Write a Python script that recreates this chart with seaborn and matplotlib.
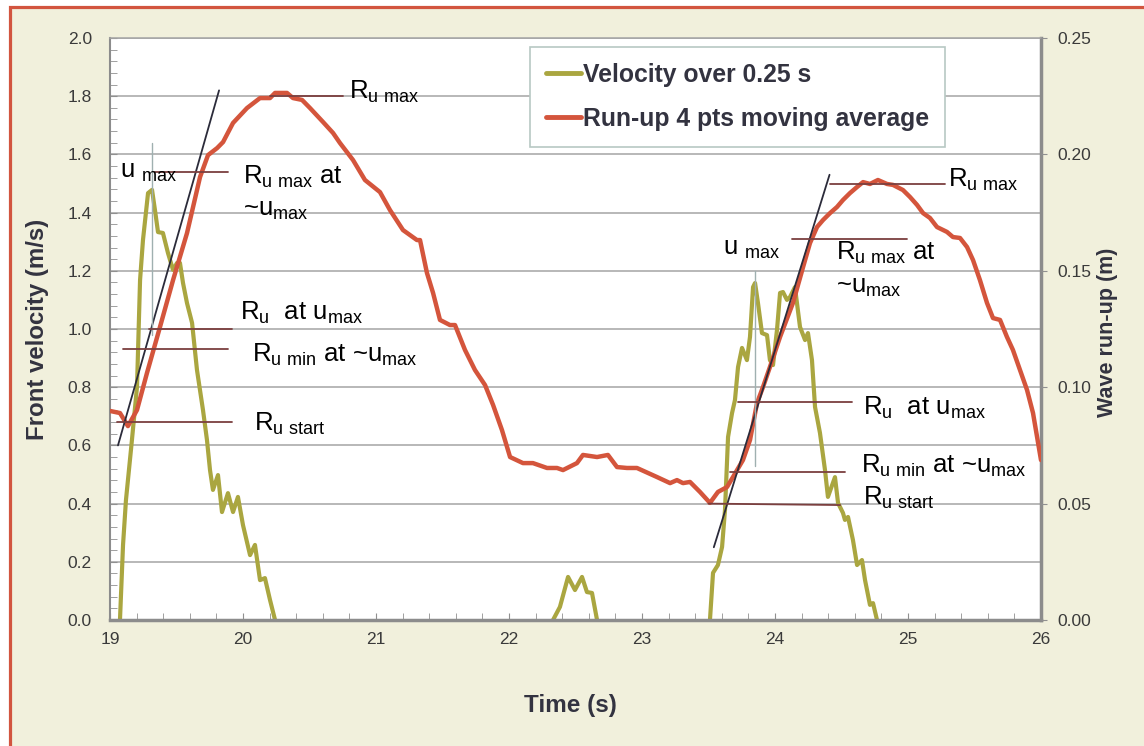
import numpy as np
import pandas as pd
import seaborn as sns
import matplotlib.pyplot as plt
from matplotlib.lines import Line2D
from matplotlib.patches import Rectangle
from matplotlib.ticker import MultipleLocator, FormatStrFormatter

# --- data ---
# run-up, 4 pts moving average (time s, run-up m)
runup_t = [19.000, 19.075, 19.135, 19.203, 19.278, 19.376, 19.474, 19.579, 19.677, 19.737,
           19.805, 19.850, 19.925, 20.030, 20.128, 20.203, 20.241, 20.331, 20.376, 20.444,
           20.504, 20.602, 20.677, 20.729, 20.827, 20.917, 21.030, 21.105, 21.203, 21.308,
           21.331, 21.383, 21.429, 21.481, 21.556, 21.594, 21.669, 21.744, 21.820, 21.880,
           21.947, 22.008, 22.105, 22.180, 22.286, 22.361, 22.406, 22.511, 22.556, 22.662,
           22.744, 22.812, 22.887, 22.962, 23.113, 23.211, 23.263, 23.308, 23.361, 23.436,
           23.511, 23.571, 23.639, 23.684, 23.759, 23.812, 23.865, 23.910, 23.962, 24.038,
           24.135, 24.211, 24.263, 24.316, 24.361, 24.414, 24.466, 24.511, 24.564, 24.617,
           24.662, 24.714, 24.774, 24.842, 24.887, 24.962, 25.015, 25.068, 25.113, 25.165,
           25.218, 25.293, 25.338, 25.391, 25.444, 25.489, 25.541, 25.594, 25.639, 25.692,
           25.744, 25.789, 25.842, 25.895, 25.940, 26.000]
runup_m = [0.0898, 0.0889, 0.0833, 0.0902, 0.1061, 0.1259, 0.1460, 0.1662, 0.1903, 0.1997,
           0.2027, 0.2053, 0.2135, 0.2199, 0.2242, 0.2242, 0.2264, 0.2264, 0.2242, 0.2234,
           0.2199, 0.2139, 0.2092, 0.2049, 0.1976, 0.1890, 0.1838, 0.1761, 0.1675, 0.1632,
           0.1632, 0.1491, 0.1405, 0.1289, 0.1267, 0.1267, 0.1160, 0.1074, 0.1009, 0.0924,
           0.0816, 0.0700, 0.0674, 0.0674, 0.0653, 0.0653, 0.0644, 0.0674, 0.0709, 0.0700,
           0.0709, 0.0657, 0.0653, 0.0653, 0.0614, 0.0588, 0.0601, 0.0588, 0.0593, 0.0550,
           0.0503, 0.0550, 0.0571, 0.0614, 0.0687, 0.0773, 0.0932, 0.1001, 0.1087, 0.1216,
           0.1362, 0.1516, 0.1619, 0.1688, 0.1718, 0.1748, 0.1774, 0.1804, 0.1834, 0.1860,
           0.1881, 0.1873, 0.1890, 0.1873, 0.1869, 0.1847, 0.1817, 0.1783, 0.1748, 0.1727,
           0.1688, 0.1667, 0.1645, 0.1641, 0.1602, 0.1546, 0.1460, 0.1362, 0.1297, 0.1289,
           0.1216, 0.1160, 0.1074, 0.0988, 0.0889, 0.0687]

# front velocity over 0.25 s, three bursts (time s, velocity m/s)
vel1_t = [19.075, 19.098, 19.120, 19.165, 19.203, 19.226, 19.248, 19.286, 19.316, 19.338,
          19.361, 19.398, 19.436, 19.474, 19.504, 19.526, 19.549, 19.579, 19.617, 19.654,
          19.699, 19.729, 19.752, 19.774, 19.812, 19.842, 19.887, 19.925, 19.962, 20.000,
          20.053, 20.090, 20.128, 20.165, 20.203, 20.241]
vel1_v = [0.000, 0.258, 0.412, 0.619, 0.801, 1.168, 1.306, 1.467, 1.478, 1.409,
          1.333, 1.330, 1.261, 1.203, 1.227, 1.227, 1.158, 1.089, 1.021, 0.859,
          0.722, 0.619, 0.515, 0.447, 0.498, 0.371, 0.436, 0.371, 0.423, 0.326,
          0.223, 0.258, 0.137, 0.144, 0.069, 0.000]
vel2_t = [22.331, 22.383, 22.444, 22.496, 22.549, 22.586, 22.624, 22.662]
vel2_v = [0.000, 0.045, 0.148, 0.103, 0.148, 0.096, 0.093, 0.000]
vel3_t = [23.511, 23.534, 23.571, 23.602, 23.624, 23.647, 23.677, 23.699, 23.722, 23.752,
          23.789, 23.812, 23.835, 23.850, 23.872, 23.902, 23.940, 23.962, 23.985, 24.015,
          24.038, 24.060, 24.090, 24.113, 24.150, 24.188, 24.226, 24.248, 24.278, 24.301,
          24.338, 24.376, 24.398, 24.451, 24.474, 24.511, 24.526, 24.549, 24.586, 24.617,
          24.654, 24.677, 24.714, 24.737, 24.767]
vel3_v = [0.000, 0.162, 0.189, 0.251, 0.378, 0.629, 0.711, 0.756, 0.869, 0.935,
          0.893, 0.973, 1.144, 1.158, 1.089, 0.986, 0.979, 0.893, 0.876, 0.997,
          1.124, 1.127, 1.100, 1.110, 1.144, 1.007, 0.962, 0.986, 0.893, 0.732,
          0.643, 0.515, 0.423, 0.491, 0.402, 0.368, 0.344, 0.354, 0.275, 0.189,
          0.206, 0.137, 0.052, 0.058, 0.000]

# annotation marks (velocity units on the left axis)
tangent_lines = [((19.06, 19.82), (0.60, 1.82)), ((23.54, 24.41), (0.25, 1.53))]
umax_lines = [((19.316, 19.316), (0.98, 1.64)), ((23.85, 23.85), (0.53, 1.20))]
level_lines = [((20.20, 20.75), (1.80, 1.80)), ((19.34, 19.89), (1.54, 1.54)),
               ((19.29, 19.92), (1.00, 1.00)), ((19.10, 19.89), (0.93, 0.93)),
               ((19.05, 19.92), (0.68, 0.68)),
               ((24.41, 25.28), (1.50, 1.50)), ((24.13, 24.99), (1.31, 1.31)),
               ((23.72, 24.58), (0.75, 0.75)), ((23.66, 24.53), (0.51, 0.51)),
               ((23.50, 24.49), (0.40, 0.395))]
labels = [(20.80, 1.79, r'R$_{u\ max}$'), (19.075, 1.52, r'u $_{max}$'),
          (20.00, 1.50, r'R$_{u\ max}$ at'), (20.00, 1.39, r'~u$_{max}$'),
          (19.98, 1.03, r'R$_{u}$  at u$_{max}$'), (20.07, 0.887, r'R$_{u\ min}$ at ~u$_{max}$'),
          (20.08, 0.65, r'R$_{u\ start}$'),
          (25.30, 1.49, r'R$_{u\ max}$'), (23.61, 1.254, r'u $_{max}$'),
          (24.46, 1.237, r'R$_{u\ max}$ at'), (24.46, 1.124, r'~u$_{max}$'),
          (24.66, 0.704, r'R$_{u}$  at u$_{max}$'), (24.65, 0.505, r'R$_{u\ min}$ at ~u$_{max}$'),
          (24.66, 0.395, r'R$_{u\ start}$')]

OLIVE = '#aaa640'
RED = '#d4553c'
GRAY = '#a4a4a4'

sns.set_style('white')
plt.rcParams['font.family'] = ['Liberation Sans', 'DejaVu Sans']
plt.rcParams['mathtext.default'] = 'regular'

vel = pd.concat([
    pd.DataFrame({'t': vel1_t, 'v': vel1_v, 'burst': 1}),
    pd.DataFrame({'t': vel2_t, 'v': vel2_v, 'burst': 2}),
    pd.DataFrame({'t': vel3_t, 'v': vel3_v, 'burst': 3}),
])
run = pd.DataFrame({'t': runup_t, 'm': runup_m})

fig = plt.figure(figsize=(11.44, 7.46), dpi=100, facecolor='white')
fig.patches.append(Rectangle((9.5 / 1144, -0.05), 1.2, (746 - 6.5) / 746 + 0.05,
                             transform=fig.transFigure, facecolor='#f1f0dc',
                             edgecolor='#d2553f', lw=2.3, zorder=-10))
ax = fig.add_axes([110 / 1144, 1 - 620 / 746, 931 / 1144, 582 / 746])
ax.set_facecolor('white')
ax2 = ax.twinx()

sns.lineplot(data=vel, x='t', y='v', units='burst', estimator=None, ax=ax,
             color=OLIVE, lw=3.0, legend=False)
sns.lineplot(data=run, x='t', y='m', ax=ax2, color=RED, lw=3.2, legend=False)

for xs, ys in tangent_lines:
    ax2.plot(xs, ys, color='#2b2b3a', lw=1.3, transform=ax.transData)
for xs, ys in umax_lines:
    ax2.plot(xs, ys, color='#9fb0b0', lw=1.0, transform=ax.transData)
for xs, ys in level_lines:
    ax2.plot(xs, ys, color='#7b3f3f', lw=1.3, transform=ax.transData)
for x, y, s in labels:
    ax2.text(x, y, s, fontsize=18.5, color='black', ha='left', va='baseline',
             transform=ax.transData)

ax.set_xlim(19, 26)
ax.set_ylim(0, 2.0)
ax2.set_ylim(0, 0.25)
ax.xaxis.set_major_locator(MultipleLocator(1))
ax.xaxis.set_minor_locator(MultipleLocator(0.2))
ax.yaxis.set_major_locator(MultipleLocator(0.2))
ax.yaxis.set_minor_locator(MultipleLocator(0.04))
ax.yaxis.set_major_formatter(FormatStrFormatter('%.1f'))
ax2.yaxis.set_major_locator(MultipleLocator(0.05))
ax2.yaxis.set_major_formatter(FormatStrFormatter('%.2f'))

ax.grid(axis='y', color=GRAY, lw=1.1)
ax.set_axisbelow(True)

ax.tick_params(axis='both', which='both', direction='in', length=5, color='#909090',
               left=True, bottom=True, labelcolor='#3a3a3a', labelsize=12.5)
ax.tick_params(axis='y', which='major', pad=13)
ax.tick_params(axis='x', which='major', pad=9)
ax2.tick_params(axis='y', direction='out', length=4, color='#909090',
                labelcolor='#3a3a3a', labelsize=12.5, pad=8)

for sp in ax2.spines.values():
    sp.set_visible(False)
for name, sp in ax.spines.items():
    sp.set_color('#8c8c8c')
    sp.set_linewidth(1.5)
ax.spines['bottom'].set_linewidth(2.5)
ax.spines['right'].set_linewidth(2.5)
ax.spines['top'].set_color(GRAY)
ax.spines['top'].set_linewidth(1.1)

ax.set_xlabel('Time (s)', fontsize=17.5, fontweight='bold', color='#333340')
ax.set_ylabel('Front velocity (m/s)', fontsize=17.3, fontweight='bold', color='#333340')
ax2.set_ylabel('Wave run-up (m)', fontsize=15.5, fontweight='bold', color='#333340')
ax.xaxis.set_label_coords((570 - 110) / 931, -(694 - 620) / 582)
ax.yaxis.set_label_coords(-(110 - 49) / 931, (620 - 329) / 582)
ax2.yaxis.set_label_coords((1097 - 110) / 931, (620 - 332) / 582)

handles = [Line2D([], [], color=OLIVE, lw=3.5), Line2D([], [], color=RED, lw=3.5)]
leg = ax2.legend(handles, ['Velocity over 0.25 s', 'Run-up 4 pts moving average'],
                 loc='upper left', bbox_to_anchor=(530 / 1144, 1 - 47 / 746),
                 bbox_transform=fig.transFigure, borderaxespad=0, frameon=True,
                 fancybox=False, framealpha=1, edgecolor='#b8c8c4',
                 prop={'weight': 'bold', 'size': 17.8}, handlelength=1.4,
                 handletextpad=0.1, labelspacing=0.8, borderpad=0.65)
leg.get_frame().set_linewidth(1.2)
for txt in leg.get_texts():
    txt.set_color('#333340')

fig.savefig('out.png', dpi=100)
